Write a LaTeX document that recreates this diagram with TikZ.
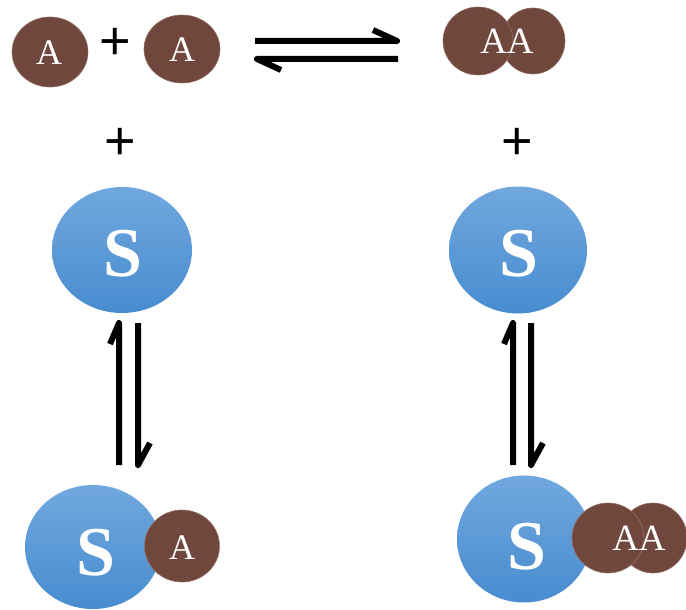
\documentclass[tikz,border=0pt]{standalone}
\usepackage{fontspec}
\setmainfont{Liberation Serif}
\newfontfamily\plusfont{Liberation Sans}
\usetikzlibrary{shapes.geometric}
\definecolor{ballbrown}{RGB}{112,71,61}
\definecolor{ballrim}{RGB}{150,110,100}
\definecolor{stop}{RGB}{112,168,222}
\definecolor{sbot}{RGB}{72,140,208}
\tikzset{
  ball/.style={ellipse, fill=ballbrown, draw=ballrim, line width=0.6pt, inner sep=0pt},
  sball/.style={ellipse, top color=stop, bottom color=sbot, draw=none, inner sep=0pt},
  alabel/.style={text=white, font=\fontsize{36}{36}\selectfont},
  aalabel/.style={text=white, font=\fontsize{37}{37}\selectfont},
  slabel/.style={text=white, font=\fontsize{70}{70}\selectfont\bfseries},
  plus/.style={font=\plusfont\fontsize{54}{54}\selectfont, text=black},
  harp/.style={line width=6pt, line cap=butt, line join=round}
}
\begin{document}
\begin{tikzpicture}[x=1pt,y=-1pt]
\useasboundingbox (0,0) rectangle (686,610);
% top row
\node[ball, minimum width=76pt, minimum height=70pt] (a1) at (50,52) {};
\node[alabel] (a1t) at (49,53) {A};
\node[plus] (p1) at (115,44) {+};
\node[ball, minimum width=76pt, minimum height=68pt] (a2) at (182,49) {};
\node[alabel] (a2t) at (182,50) {A};
% AA top
\node[ball, minimum width=64pt, minimum height=66pt] (aar) at (533,41) {};
\node[ball, minimum width=70pt, minimum height=68pt] (aal) at (478,41) {};
\node[aalabel] (aat) at (507,41) {AA};
% horizontal equilibrium
\coordinate (h1s) at (255,41);
\coordinate (h1e) at (397,41);
\coordinate (h1b) at (373,30);
\coordinate (h2s) at (398,59);
\coordinate (h2e) at (257,59);
\coordinate (h2b) at (281,70);
\draw[harp] (h1s) -- (h1e) -- (h1b);
\draw[harp] (h2s) -- (h2e) -- (h2b);
% pluses
\node[plus] (p2) at (120,144) {+};
\node[plus] (p3) at (517,144) {+};
% S top
\node[sball, minimum width=140pt, minimum height=126pt] (s1) at (122,250) {};
\node[slabel] (s1t) at (123,254) {S};
\node[sball, minimum width=138pt, minimum height=127pt] (s2) at (518,250) {};
\node[slabel] (s2t) at (519,254) {S};
% vertical equilibria
\coordinate (v1s) at (119,465);
\coordinate (v1e) at (119,323);
\coordinate (v1b) at (110,344);
\coordinate (v2s) at (138,323);
\coordinate (v2e) at (138,465);
\coordinate (v2b) at (150,443);
\draw[harp] (v1s) -- (v1e) -- (v1b);
\draw[harp] (v2s) -- (v2e) -- (v2b);
\coordinate (v3s) at (513,465);
\coordinate (v3e) at (513,323);
\coordinate (v3b) at (504,344);
\coordinate (v4s) at (531,323);
\coordinate (v4e) at (531,465);
\coordinate (v4b) at (543,443);
\draw[harp] (v3s) -- (v3e) -- (v3b);
\draw[harp] (v4s) -- (v4e) -- (v4b);
% bottom left complex
\node[sball, minimum width=136pt, minimum height=124pt] (s3) at (93,547) {};
\node[slabel] (s3t) at (96,553) {S};
\node[ball, minimum width=75pt, minimum height=72pt] (a3) at (182,546) {};
\node[alabel] (a3t) at (182,548) {A};
% bottom right complex
\node[sball, minimum width=134pt, minimum height=127pt] (s4) at (524,539) {};
\node[slabel] (s4t) at (527,547) {S};
\node[ball, minimum width=68pt, minimum height=70pt] (aar2) at (653,538) {};
\node[ball, minimum width=72pt, minimum height=70pt] (aal2) at (608,538) {};
\node[aalabel] (aat2) at (639,538) {AA};
\end{tikzpicture}
\end{document}
